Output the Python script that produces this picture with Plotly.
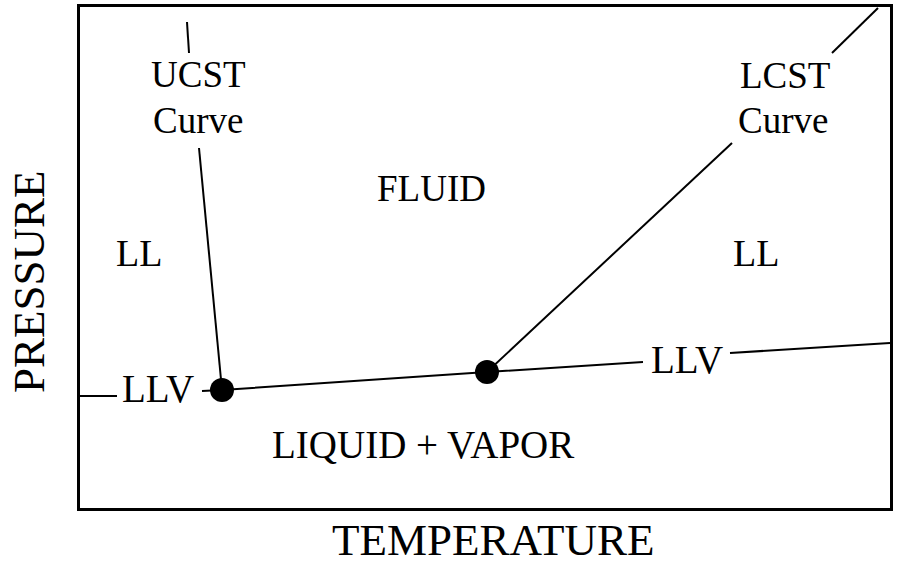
import plotly.graph_objects as go

# data units: arbitrary temperature / pressure, box is 810 x 501
ucst_T = [107, 109, None, 119, 142]
ucst_P = [486, 455, None, 360, 118]

llv_T = [0, 37, None, 122, 142, 407, 563, None, 650, 810]
llv_P = [112, 112, None, 117, 118, 136, 146, None, 155, 165]

lcst_T = [407, 652, None, 752, 798]
lcst_P = [136, 365, None, 455, 500]

points_T = [142, 407]
points_P = [118, 136]

labels = ["UCST", "Curve", "LCST", "Curve", "FLUID", "LL", "LL", "LLV", "LLV", "LIQUID + VAPOR"]
label_T = [118, 118, 705, 703, 351, 59, 676, 78, 607, 343]
label_P = [434, 388, 433, 388, 320, 255, 255, 120, 149, 64]
label_size = [37, 37, 37, 37, 37, 38, 38, 39, 39, 39]

FONT = "Liberation Serif"

fig = go.Figure()
line = dict(color="black", width=2)
fig.add_trace(go.Scatter(x=ucst_T, y=ucst_P, mode="lines", line=line))
fig.add_trace(go.Scatter(x=llv_T, y=llv_P, mode="lines", line=line))
fig.add_trace(go.Scatter(x=lcst_T, y=lcst_P, mode="lines", line=line))
fig.add_trace(go.Scatter(x=points_T, y=points_P, mode="markers",
                         marker=dict(color="black", size=24)))

for txt, t, p, s in zip(labels, label_T, label_P, label_size):
  fig.add_annotation(x=t, y=p, text=txt, showarrow=False,
                     font=dict(family=FONT, size=s, color="black"))

# axis titles as paper annotations so the margins stay put
fig.add_annotation(xref="paper", yref="paper", x=0.511, y=0, yshift=-32,
                   xanchor="center", yanchor="middle",
                   text="TEMPERATURE", showarrow=False,
                   font=dict(family=FONT, size=45, color="black"))
fig.add_annotation(xref="paper", yref="paper", x=0, y=0.451, xshift=-51,
                   xanchor="center", yanchor="middle",
                   text="PRESSURE", textangle=-90, showarrow=False,
                   font=dict(family=FONT, size=45, color="black"))

axis = dict(showgrid=False, zeroline=False, showticklabels=False, ticks="",
            showline=True, mirror=True, linecolor="black", linewidth=3,
            automargin=False)
fig.update_xaxes(range=[0, 810], **axis)
fig.update_yaxes(range=[0, 501], **axis)

fig.update_layout(width=901, height=565, showlegend=False,
                  margin=dict(l=80, r=11, t=7, b=57, autoexpand=False),
                  plot_bgcolor="white", paper_bgcolor="white")

# drop the default page margin so the figure fills the window exactly
fig.write_html("out.html", config={"displayModeBar": False},
               post_script="document.body.style.margin = '0';")
